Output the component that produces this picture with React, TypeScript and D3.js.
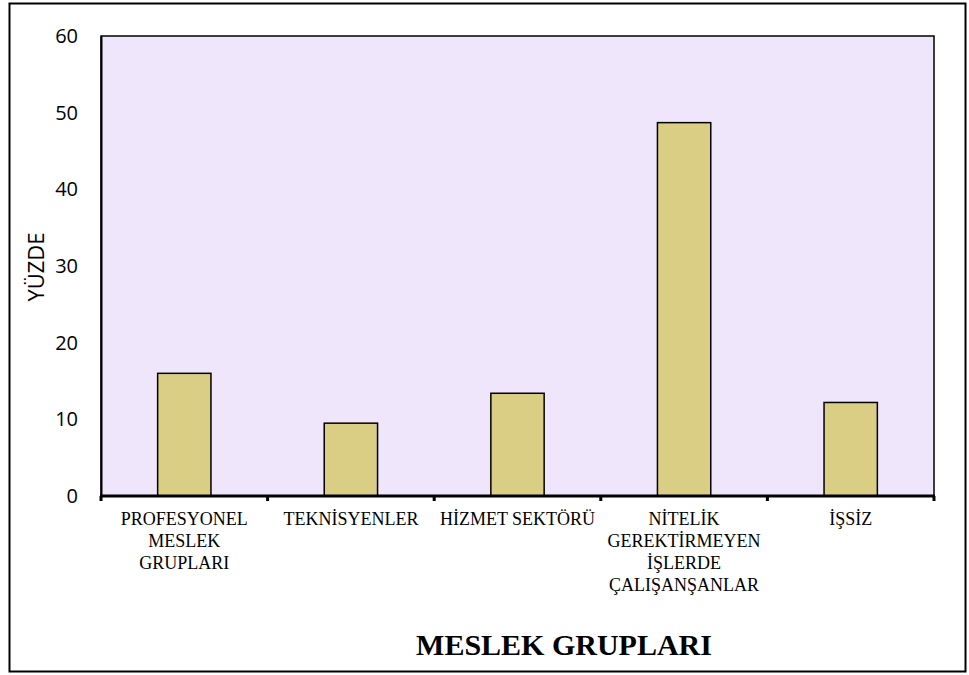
import React, { useEffect, useRef } from 'react';
import * as d3 from 'd3';

// Chart data
const categories = [
  'PROFESYONEL MESLEK GRUPLARI',
  'TEKNİSYENLER',
  'HİZMET SEKTÖRÜ',
  'NİTELİK GEREKTİRMEYEN İŞLERDE ÇALIŞANŞANLAR',
  'İŞSİZ',
];
const categoryLines = [
  ['PROFESYONEL', 'MESLEK', 'GRUPLARI'],
  ['TEKNİSYENLER'],
  ['HİZMET SEKTÖRÜ'],
  ['NİTELİK', 'GEREKTİRMEYEN', 'İŞLERDE', 'ÇALIŞANŞANLAR'],
  ['İŞSİZ'],
];
const values = [16, 9.5, 13.4, 48.7, 12.2];
const yTicks = [0, 10, 20, 30, 40, 50, 60];
const yTitle = 'YÜZDE';
const xTitle = 'MESLEK GRUPLARI';

const App: React.FC = () => {
  const ref = useRef<SVGSVGElement>(null);

  useEffect(() => {
    if (!ref.current) return;
    const svg = d3.select(ref.current);
    svg.selectAll('*').remove();

    const width = 969;
    const height = 675;
    const margin = { top: 36, right: 35, bottom: 179, left: 101 };
    const chartWidth = width - margin.left - margin.right;
    const chartHeight = height - margin.top - margin.bottom;

    // outer frame
    svg.append('rect')
      .attr('x', 9.5)
      .attr('y', 3.5)
      .attr('width', 956)
      .attr('height', 668)
      .attr('fill', '#fff')
      .attr('stroke', '#000')
      .attr('stroke-width', 2);

    const g = svg.append('g')
      .attr('transform', `translate(${margin.left},${margin.top})`);

    const x = d3.scaleBand()
      .domain(categories)
      .range([0, chartWidth])
      .paddingInner(0.68)
      .paddingOuter(0.34);

    const y = d3.scaleLinear()
      .domain([0, 60])
      .range([chartHeight, 0]);

    // plot background
    g.append('rect')
      .attr('x', 0)
      .attr('y', 0)
      .attr('width', chartWidth)
      .attr('height', chartHeight)
      .attr('fill', '#efe6fb')
      .attr('stroke', '#000')
      .attr('stroke-width', 1.5);

    // bars
    g.selectAll('.bar')
      .data(values)
      .join('rect')
      .attr('class', 'bar')
      .attr('x', (_, i) => x(categories[i]) || 0)
      .attr('y', d => y(d))
      .attr('width', x.bandwidth())
      .attr('height', d => chartHeight - y(d))
      .attr('fill', '#dace84')
      .attr('stroke', '#000')
      .attr('stroke-width', 1.5);

    // y axis
    const yAxis = g.append('g')
      .call(d3.axisLeft(y).tickValues(yTicks).tickSize(0).tickPadding(23));
    yAxis.select('.domain').attr('stroke', '#000').attr('stroke-width', 2);
    yAxis.selectAll('text')
      .attr('font-family', '"Open Sans", sans-serif')
      .attr('font-size', 20)
      .attr('fill', '#000');

    // x axis: thick baseline + ticks at band edges
    const step = x.step();
    const edges = d3.range(categories.length + 1).map(i => i * step);
    g.append('line')
      .attr('x1', -1)
      .attr('x2', chartWidth + 1)
      .attr('y1', chartHeight)
      .attr('y2', chartHeight)
      .attr('stroke', '#000')
      .attr('stroke-width', 3);
    g.selectAll('.xtick')
      .data(edges)
      .join('line')
      .attr('class', 'xtick')
      .attr('x1', d => d)
      .attr('x2', d => d)
      .attr('y1', chartHeight)
      .attr('y2', chartHeight + 5)
      .attr('stroke', '#000')
      .attr('stroke-width', 3);

    // category labels
    categoryLines.forEach((lines, i) => {
      const cx = (x(categories[i]) || 0) + x.bandwidth() / 2;
      const t = g.append('text')
        .attr('x', cx)
        .attr('y', chartHeight + 29)
        .attr('text-anchor', 'middle')
        .attr('font-family', '"Liberation Serif", "Times New Roman", serif')
        .attr('font-size', 18)
        .attr('fill', '#000');
      lines.forEach((ln, j) => {
        t.append('tspan')
          .attr('x', cx)
          .attr('dy', j === 0 ? 0 : 22)
          .text(ln);
      });
    });

    // y title
    svg.append('text')
      .attr('transform', 'translate(44,267) rotate(-90)')
      .attr('text-anchor', 'middle')
      .attr('font-family', '"Open Sans", sans-serif')
      .attr('font-size', 22)
      .attr('fill', '#000')
      .text(yTitle);

    // x title
    svg.append('text')
      .attr('x', 564)
      .attr('y', 655)
      .attr('text-anchor', 'middle')
      .attr('font-family', '"Liberation Serif", "Times New Roman", serif')
      .attr('font-weight', 'bold')
      .attr('font-size', 30)
      .attr('fill', '#000')
      .text(xTitle);
  }, []);

  return (
    <svg
      ref={ref}
      width={969}
      height={675}
      style={{ position: 'absolute', left: 0, top: 0, background: '#fff' }}
    />
  );
};

export default App;
